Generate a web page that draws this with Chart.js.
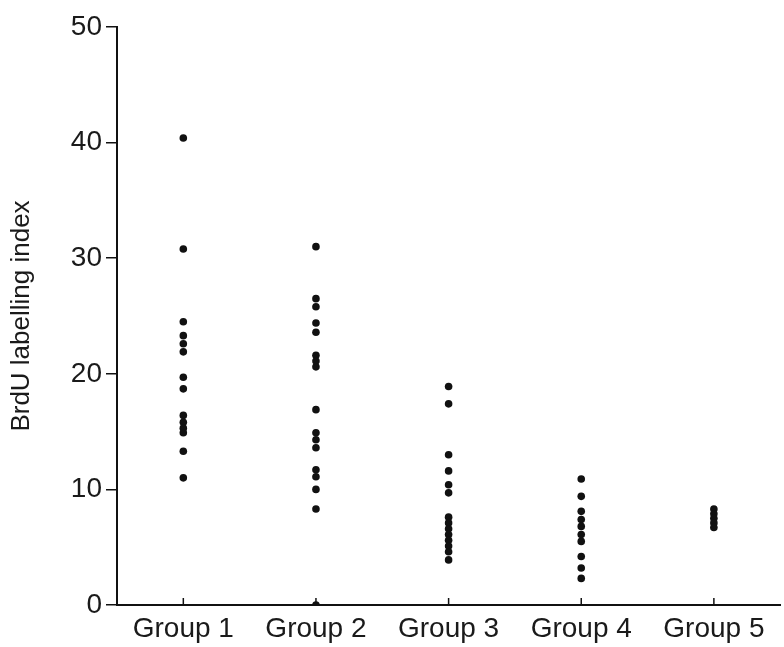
<!DOCTYPE html>
<html>
<head>
<meta charset="utf-8">
<script src="https://cdn.jsdelivr.net/npm/chart.js@4/dist/chart.umd.min.js"></script>
<style>
  html, body { margin: 0; padding: 0; background: #fff; }
  #wrap { width: 784px; height: 647px; position: relative; }
</style>
</head>
<body>
<div id="wrap"><canvas id="brduChart"></canvas></div>
<script>
// Data
const groups = ['Group 1', 'Group 2', 'Group 3', 'Group 4', 'Group 5'];
const group1 = [40.4, 30.8, 24.5, 23.3, 22.6, 21.9, 19.7, 18.7, 16.4, 15.8, 15.3, 14.9, 13.3, 11.0];
const group2 = [31.0, 26.5, 25.8, 24.4, 23.6, 21.6, 21.1, 20.6, 16.9, 14.9, 14.3, 13.6, 11.7, 11.1, 10.0, 8.3, 0];
const group3 = [18.9, 17.4, 13.0, 11.6, 10.4, 9.7, 7.6, 7.1, 6.6, 6.1, 5.6, 5.1, 4.6, 3.9];
const group4 = [10.9, 9.4, 8.1, 7.4, 6.8, 6.1, 5.5, 4.2, 3.2, 2.3];
const group5 = [8.3, 7.9, 7.5, 7.1, 6.7];
const yTicks = [0, 10, 20, 30, 40, 50];

const allGroups = [group1, group2, group3, group4, group5];
const points = [];
allGroups.forEach((vals, i) => {
    vals.forEach(v => points.push({ x: groups[i], y: v }));
});

const fontFamily = "'Liberation Sans', Arial, sans-serif";

// short category ticks pointing up into the plot, like the original
const upTicks = {
    id: 'upTicks',
    afterDraw(chart) {
        const ctx = chart.ctx;
        const xs = chart.scales.x;
        const bottom = chart.chartArea.bottom;
        ctx.save();
        ctx.strokeStyle = '#111';
        ctx.lineWidth = 1.5;
        groups.forEach((g, i) => {
            const px = xs.getPixelForValue(i);
            ctx.beginPath();
            ctx.moveTo(px, bottom);
            ctx.lineTo(px, bottom - 7);
            ctx.stroke();
        });
        ctx.restore();
    }
};

const ctx = document.getElementById('brduChart').getContext('2d');
const brduChart = new Chart(ctx, {
    type: 'scatter',
    data: {
        labels: groups,
        datasets: [{
            label: 'BrdU labelling index',
            data: points,
            backgroundColor: '#111',
            borderColor: '#111',
            pointRadius: 3.8,
            pointHoverRadius: 3.8,
            borderWidth: 0
        }]
    },
    options: {
        responsive: true,
        maintainAspectRatio: false,
        animation: false,
        layout: { padding: { top: 27, right: 0, left: 0, bottom: 0 } },
        plugins: {
            legend: { display: false },
            tooltip: { enabled: false }
        },
        scales: {
            x: {
                type: 'category',
                labels: groups,
                offset: true,
                afterFit: function(scale) { scale.height = 42; },
                grid: {
                    display: true,
                    drawOnChartArea: false,
                    drawTicks: false
                },
                border: { color: '#111', width: 2 },
                ticks: {
                    color: '#1a1a1a',
                    padding: 7,
                    maxRotation: 0,
                    autoSkip: false,
                    font: { family: fontFamily, size: 28 }
                }
            },
            y: {
                min: 0,
                max: 50,
                afterBuildTicks: function(scale) {
                    scale.ticks = yTicks.map(v => ({ value: v }));
                },
                afterFit: function(scale) { scale.width = 117; },
                grid: {
                    display: true,
                    drawOnChartArea: false,
                    drawTicks: true,
                    tickLength: 11,
                    color: '#111',
                    lineWidth: 1.5
                },
                border: { color: '#111', width: 2 },
                title: {
                    display: true,
                    text: 'BrdU labelling index',
                    color: '#1a1a1a',
                    font: { family: fontFamily, size: 26 },
                    padding: { top: 6, bottom: 0 }
                },
                ticks: {
                    color: '#1a1a1a',
                    padding: 4,
                    font: { family: fontFamily, size: 28 }
                }
            }
        }
    },
    plugins: [upTicks]
});
</script>
</body>
</html>
